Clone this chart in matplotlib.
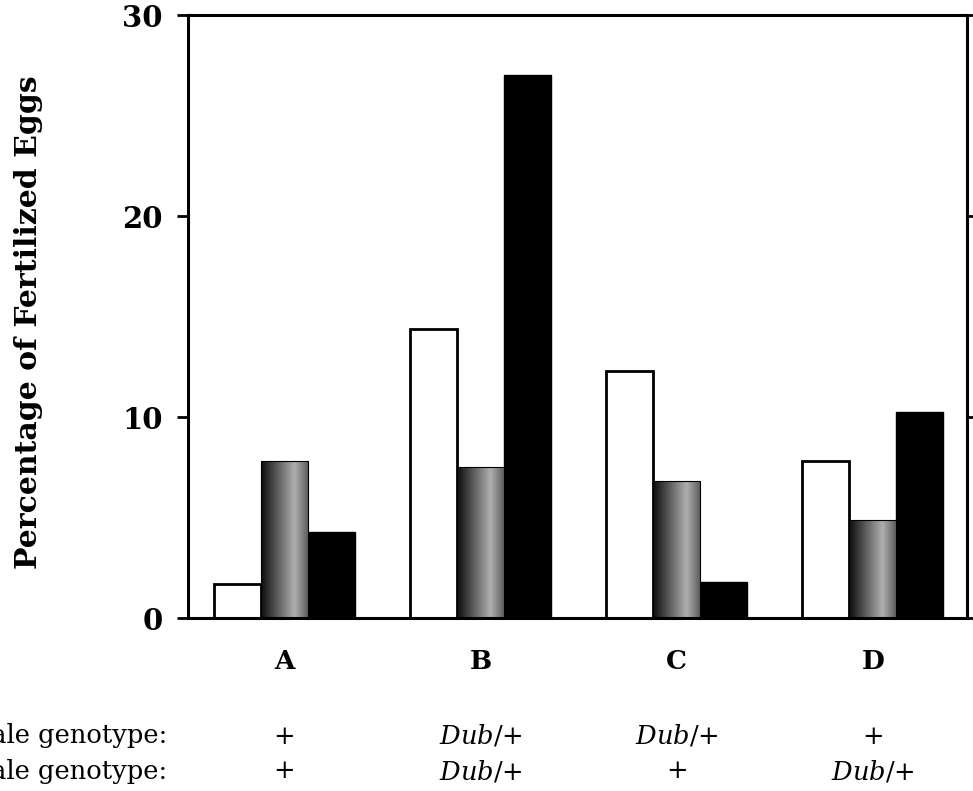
import numpy as np
import matplotlib
matplotlib.use('Agg')
import matplotlib.pyplot as plt
import matplotlib.transforms as mtransforms

plt.rcParams['font.family'] = 'DejaVu Serif'
plt.rcParams['mathtext.fontset'] = 'dejavuserif'

groups = ['A', 'B', 'C', 'D']
white = [1.7, 14.4, 12.3, 7.8]
gray = [7.8, 7.5, 6.8, 4.9]
black = [4.3, 27.0, 1.8, 10.25]
male = ['+', r'$\mathit{Dub}$/+', r'$\mathit{Dub}$/+', '+']
female = ['+', r'$\mathit{Dub}$/+', '+', r'$\mathit{Dub}$/+']

fig = plt.figure(figsize=(9.73, 7.91), dpi=100)
ax = fig.add_axes([0.1932, 0.2187, 0.8006, 0.7623])

x = np.arange(len(groups))
w = 0.24

ax.bar(x - w, white, w, color='white', edgecolor='black', linewidth=2.0, zorder=2)
ax.bar(x + w, black, w, color='black', edgecolor='black', linewidth=1.0, zorder=2)
gbars = ax.bar(x, gray, w, color='none', edgecolor='black', linewidth=0.8, zorder=3)

# dark-to-light shading inside the grey bars
grad = np.concatenate([np.linspace(0.05, 0.68, 70), np.linspace(0.68, 0.35, 30)])
grad = np.tile(grad, (2, 1))
for b in gbars:
    im = ax.imshow(grad, cmap='gray', vmin=0, vmax=1, aspect='auto',
                   extent=(b.get_x(), b.get_x() + b.get_width(), 0, b.get_height()),
                   zorder=2.5, interpolation='bilinear')
    im.set_clip_path(b)

ax.set_xlim(-0.492, 3.48)
ax.set_ylim(0, 30)
ax.set_yticks([0, 10, 20, 30])
ax.set_yticklabels(['0', '10', '20', '30'], fontsize=21, fontweight='bold')
ax.set_xticks(x)
ax.set_xticklabels(groups, fontsize=19, fontweight='bold')
ax.tick_params(axis='x', length=0, pad=22)
ax.tick_params(axis='y', direction='out', length=8, width=2, pad=10,
               right=True, labelright=False)
for s in ax.spines.values():
    s.set_linewidth(2.2)

fig.text(29 / 973, 1 - 322 / 791, 'Percentage of Fertilized Eggs', rotation=90,
         ha='center', va='center', fontsize=21.5, fontweight='bold')

trans = mtransforms.blended_transform_factory(ax.transData, fig.transFigure)
for i in range(len(groups)):
    ax.text(x[i], 1 - 736 / 791, male[i], transform=trans, ha='center', va='center', fontsize=18.5)
    ax.text(x[i], 1 - 771 / 791, female[i], transform=trans, ha='center', va='center', fontsize=18.5)
fig.text(167 / 973, 1 - 736 / 791, 'Male genotype:', ha='right', va='center', fontsize=18.5)
fig.text(167 / 973, 1 - 771 / 791, 'Female genotype:', ha='right', va='center', fontsize=18.5)

fig.savefig('out.png', dpi=100)
